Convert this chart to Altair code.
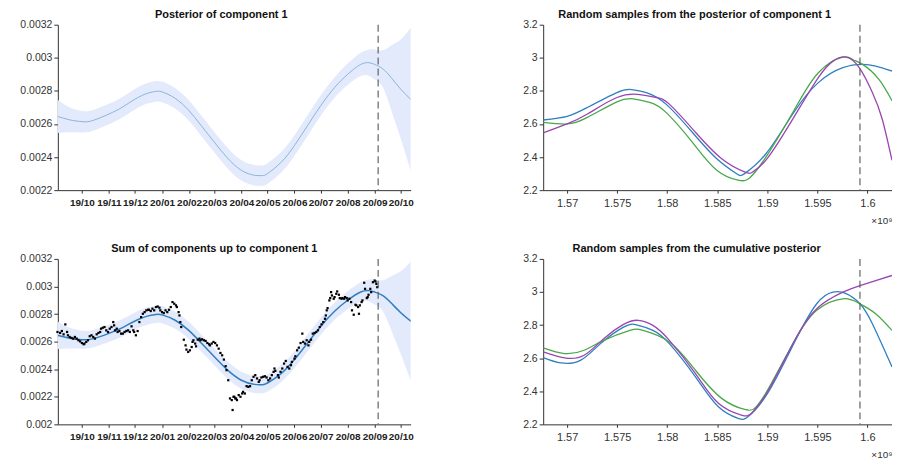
import altair as alt
import pandas as pd

# ---------------- left panels (dates as day offsets from 2019-10-01, values in 1e-3 units) -------------
post_day = [-28, -14, 0, 12, 31, 46, 61, 75, 85, 92, 107, 123, 137, 152, 167, 183, 198, 207, 213,
            229, 244, 259, 274, 290, 305, 320, 330, 336, 345, 355, 366, 378]
post_mean = [2.646, 2.625, 2.614, 2.62, 2.66, 2.70, 2.75, 2.785, 2.797, 2.794, 2.755, 2.68, 2.59, 2.49,
             2.395, 2.32, 2.29, 2.288, 2.30, 2.37, 2.47, 2.59, 2.71, 2.82, 2.90, 2.96, 2.97, 2.96,
             2.935, 2.88, 2.81, 2.746]
post_lower = [2.546, 2.550, 2.549, 2.557, 2.598, 2.638, 2.688, 2.723, 2.735, 2.732, 2.693, 2.618, 2.528,
              2.428, 2.333, 2.258, 2.228, 2.226, 2.238, 2.308, 2.408, 2.528, 2.648, 2.758, 2.835, 2.89,
              2.89, 2.87, 2.825, 2.685, 2.51, 2.306]
post_upper = [2.746, 2.700, 2.679, 2.683, 2.722, 2.762, 2.812, 2.847, 2.859, 2.856, 2.817, 2.742, 2.652,
              2.552, 2.457, 2.382, 2.352, 2.350, 2.362, 2.432, 2.532, 2.652, 2.772, 2.882, 2.965, 3.03,
              3.05, 3.05, 3.045, 3.075, 3.11, 3.186]

obs_day = [-28, -25, -23, -21, -19, -17, -16, -14, -12, -10, -8, -6, -4, -2, 0, 2, 3, 5, 7, 9, 11, 13,
           15, 17, 19, 21, 22, 24, 26, 28, 30, 32, 34, 36, 37, 38, 40, 41, 43, 45, 47, 49, 51, 53, 55,
           57, 59, 60, 62, 64, 66, 68, 70, 72, 74, 76,
           77, 79, 81, 83, 85, 87, 89, 90, 92, 94, 96, 98, 100, 102, 104, 106, 108, 109, 111, 112, 113,
           114, 117, 119, 120, 122, 124, 126, 127, 128, 130, 131, 133, 135, 136, 138, 140, 142, 144,
           146, 147, 149, 151, 153, 155, 157, 159, 161, 163, 165, 166, 168, 170, 172, 174, 176,
           173, 175, 177, 178, 180, 182, 184, 185, 187, 189, 191, 193, 195, 197, 199, 201, 203, 204,
           206, 208, 210, 212, 214, 216, 218, 220, 221, 222, 225, 226, 228, 230, 232, 234, 236, 238,
           240, 241, 244, 245, 247, 249, 251, 253, 254, 256, 258, 260, 261, 263, 265, 267, 269, 271,
           273, 275, 277, 279, 280,
           281, 282, 284, 285, 286, 287, 289, 290, 292, 293, 295, 296, 298, 299, 301, 302, 304, 305,
           307, 309, 310, 312, 314, 315, 317, 318, 319, 321, 322, 324, 325, 327, 328, 329, 331, 332,
           334, 336, 337, 338, 339]
obs_val = [2.670, 2.663, 2.677, 2.653, 2.725, 2.670, 2.646, 2.634, 2.627, 2.622, 2.634, 2.622, 2.610,
           2.602, 2.590, 2.581, 2.586, 2.598, 2.610, 2.639, 2.646, 2.634, 2.622, 2.653, 2.663, 2.670,
           2.694, 2.701, 2.706, 2.682, 2.670, 2.694, 2.706, 2.742, 2.718, 2.682, 2.694, 2.670, 2.677,
           2.658, 2.658, 2.670, 2.677, 2.682, 2.670, 2.711, 2.682, 2.670, 2.646, 2.677, 2.742, 2.778,
           2.802, 2.814, 2.827, 2.831,
           2.831, 2.822, 2.839, 2.827, 2.851, 2.855, 2.846, 2.827, 2.814, 2.807, 2.827, 2.814, 2.831,
           2.851, 2.887, 2.875, 2.863, 2.851, 2.814, 2.790, 2.742, 2.706, 2.614, 2.573, 2.542, 2.525,
           2.537, 2.561, 2.598, 2.610, 2.586, 2.566, 2.614, 2.622, 2.610, 2.617, 2.610, 2.605, 2.590,
           2.581, 2.573, 2.586, 2.598, 2.590, 2.573, 2.549, 2.518, 2.501, 2.470, 2.422, 2.393, 2.320,
           2.188, 2.176, 2.200, 2.188,
           2.104, 2.200, 2.188, 2.176, 2.212, 2.200, 2.224, 2.236, 2.224, 2.277, 2.272, 2.277, 2.320,
           2.345, 2.357, 2.333, 2.308, 2.320, 2.340, 2.345, 2.349, 2.340, 2.320, 2.333, 2.357, 2.381,
           2.405, 2.388, 2.357, 2.340, 2.381, 2.405, 2.441, 2.460, 2.417, 2.405, 2.429, 2.453, 2.477,
           2.494, 2.537, 2.556, 2.590, 2.658, 2.598, 2.586, 2.610, 2.573, 2.598, 2.614, 2.658, 2.663,
           2.670, 2.682, 2.706, 2.725, 2.742, 2.766, 2.790,
           2.827, 2.843, 2.899, 2.916, 2.959, 2.935, 2.911, 2.923, 2.947, 2.964, 2.940, 2.916, 2.911,
           2.916, 2.911, 2.923, 2.916, 2.899, 2.911, 2.887, 2.827, 2.795, 2.867, 2.863, 2.851, 2.802,
           2.863, 2.887, 2.899, 3.027, 2.983, 2.916, 2.923, 2.940, 2.983, 2.959, 3.031, 3.043, 3.036,
           3.019, 2.995]

left_domain_days = [-27.6, 377.3]
cut_day = 340
month_ticks = ["2019-10-01", "2019-11-01", "2019-12-01", "2020-01-01", "2020-02-01", "2020-03-01",
               "2020-04-01", "2020-05-01", "2020-06-01", "2020-07-01", "2020-08-01", "2020-09-01",
               "2020-10-01"]
top_left_ticks = [0.0022, 0.0024, 0.0026, 0.0028, 0.003, 0.0032]
bot_left_ticks = [0.002, 0.0022, 0.0024, 0.0026, 0.0028, 0.003, 0.0032]

# ---------------- right panels (x in units of 1e9 s) -------------
r_domain = [1.56761, 1.60245]
r_cut = 1.59925
r_xticks = [1.57, 1.575, 1.58, 1.585, 1.59, 1.595, 1.6]
r_yticks = [2.2, 2.4, 2.6, 2.8, 3.0, 3.2]

t_blue_x = [1.56761, 1.57, 1.57203, 1.57497, 1.57644, 1.57792, 1.57988, 1.58250, 1.58495, 1.58691,
            1.58773, 1.58986, 1.59264, 1.59509, 1.59754, 1.59951, 1.60082, 1.60245]
t_blue_y = [2.624, 2.646, 2.70, 2.79, 2.808, 2.79, 2.72, 2.55, 2.39, 2.30, 2.30, 2.42, 2.67, 2.85,
            2.94, 2.96, 2.95, 2.92]
t_green_x = [1.56761, 1.57, 1.57203, 1.57497, 1.57661, 1.57824, 1.57988, 1.58250, 1.58495, 1.58708,
             1.58822, 1.58986, 1.59264, 1.59509, 1.59754, 1.59852, 1.59951, 1.60114, 1.60245]
t_green_y = [2.61, 2.60, 2.64, 2.734, 2.752, 2.73, 2.67, 2.49, 2.32, 2.26, 2.274, 2.40, 2.68, 2.91,
             3.004, 2.99, 2.96, 2.87, 2.74]
t_purple_x = [1.56761, 1.57, 1.57203, 1.57497, 1.57726, 1.57890, 1.58021, 1.58282, 1.58544, 1.58773,
              1.58855, 1.59002, 1.59264, 1.59509, 1.59656, 1.59787, 1.59918, 1.60049, 1.60147, 1.60245]
t_purple_y = [2.546, 2.60, 2.66, 2.76, 2.778, 2.76, 2.72, 2.55, 2.39, 2.31, 2.31, 2.394, 2.64, 2.88,
              2.98, 3.004, 2.94, 2.79, 2.63, 2.38]

b_blue_x = [1.56761, 1.56941, 1.57137, 1.57334, 1.57563, 1.57694, 1.57857, 1.58021, 1.58282, 1.58511,
            1.58708, 1.58806, 1.59002, 1.59264, 1.59493, 1.59656, 1.59787, 1.59925, 1.60049, 1.60245]
b_blue_y = [2.604, 2.571, 2.588, 2.688, 2.788, 2.802, 2.768, 2.688, 2.487, 2.306, 2.236, 2.246, 2.387,
            2.688, 2.929, 2.999, 2.99, 2.929, 2.808, 2.547]
b_green_x = [1.56761, 1.56974, 1.57170, 1.57366, 1.57628, 1.57759, 1.58021, 1.58282, 1.58544, 1.58773,
             1.58871, 1.59002, 1.59264, 1.59493, 1.59754, 1.59925, 1.60082, 1.60245]
b_green_y = [2.662, 2.628, 2.648, 2.708, 2.768, 2.768, 2.698, 2.527, 2.357, 2.29, 2.296, 2.407, 2.698,
             2.889, 2.959, 2.929, 2.869, 2.768]
b_purple_x = [1.56761, 1.56974, 1.57170, 1.57366, 1.57563, 1.57710, 1.57857, 1.58021, 1.58282, 1.58511,
              1.58740, 1.58839, 1.59002, 1.59264, 1.59493, 1.59754, 1.59925, 1.60082, 1.60245]
b_purple_y = [2.638, 2.602, 2.618, 2.718, 2.804, 2.829, 2.798, 2.708, 2.507, 2.327, 2.256, 2.266, 2.397,
              2.698, 2.899, 2.999, 3.039, 3.069, 3.10]

# ---------------- styling -------------
FONT = "Liberation Sans"
BAND = "#e3eafc"
WL, WR, H = 354, 350, 166
C_BLUE, C_GREEN, C_PURPLE = "#2f7fc1", "#4aa84a", "#9a45b0"

origin = pd.Timestamp("2019-10-01", tz="UTC")


def to_ms(days):
    return [int((origin + pd.Timedelta(days=float(d))).value // 10**6) for d in days]


post_df = pd.DataFrame({"t": to_ms(post_day),
                        "mean": [v * 1e-3 for v in post_mean],
                        "lo": [v * 1e-3 for v in post_lower],
                        "hi": [v * 1e-3 for v in post_upper]})
obs_df = pd.DataFrame({"t": to_ms(obs_day), "v": [v * 1e-3 for v in obs_val]})
cut_df = pd.DataFrame({"t": to_ms([cut_day])})
tick_ms = [int(pd.Timestamp(s, tz="UTC").value // 10**6) for s in month_ticks]
dom_ms = to_ms(left_domain_days)

xscale_l = alt.Scale(type="utc", domain=dom_ms, nice=False)
xaxis_l = alt.Axis(values=tick_ms, format="%y/%m", title=None, labelFontWeight="bold",
                   labelColor="#222", labelOverlap=False, labelFlush=False, tickSize=3,
                   labelFontSize=10, labelPadding=4)


def panel_title(text, dx):
    return alt.TitleParams(text, dx=dx, frame="group", offset=0)


def left_panel(title, yticks, ydom, line_color, line_w, dots, dx):
    yscale = alt.Scale(domain=ydom, nice=False, zero=False)
    yaxis = alt.Axis(values=yticks, format="~g", title=None, labelOverlap=False, tickCount=len(yticks))
    x = alt.X("t:T", scale=xscale_l, axis=xaxis_l)
    band = alt.Chart(post_df).mark_area(color=BAND, interpolate="natural", clip=True).encode(
        x=x, y=alt.Y("lo:Q", scale=yscale, axis=yaxis), y2="hi:Q")
    line = alt.Chart(post_df).mark_line(color=line_color, strokeWidth=line_w, interpolate="natural",
                                        clip=True).encode(
        x=x, y=alt.Y("mean:Q", scale=yscale, axis=yaxis))
    layers = [band, line]
    if dots:
        layers.append(alt.Chart(obs_df).mark_square(size=5, color="black", opacity=1).encode(
            x=x, y=alt.Y("v:Q", scale=yscale, axis=yaxis)))
    layers.append(alt.Chart(cut_df).mark_rule(color="#555", strokeDash=[7, 4], strokeWidth=1.1).encode(
        x=x))
    return alt.layer(*layers).properties(width=WL, height=H, title=panel_title(title, dx))


def right_panel(title, series, dx):
    rows = []
    for name, xs, ys in series:
        for i, (a, b) in enumerate(zip(xs, ys)):
            rows.append({"s": name, "x": a, "y": b, "i": i})
    df = pd.DataFrame(rows)
    xscale = alt.Scale(domain=r_domain, nice=False, zero=False)
    yscale = alt.Scale(domain=[2.2, 3.2], nice=False, zero=False)
    x = alt.X("x:Q", scale=xscale,
              axis=alt.Axis(values=r_xticks, format="~g", title="×10⁹", titleAnchor="end",
                            titleAlign="right", titleBaseline="alphabetic", titleX=WR, titleY=33,
                            titleFontSize=10, titleFontWeight="normal", titleColor="#333",
                            labelFlush=False, labelOverlap=False, tickSize=3, labelPadding=4,
                            labelFontSize=11))
    lines = alt.Chart(df).mark_line(strokeWidth=1.3, interpolate="natural", clip=True).encode(
        x=x,
        y=alt.Y("y:Q", scale=yscale,
                axis=alt.Axis(values=r_yticks, format="~g", title=None, labelOverlap=False)),
        color=alt.Color("s:N", scale=alt.Scale(domain=["blue", "green", "purple"],
                                               range=[C_BLUE, C_GREEN, C_PURPLE]), legend=None),
        order="i:Q")
    rule = alt.Chart(pd.DataFrame({"x": [r_cut]})).mark_rule(
        color="#555", strokeDash=[7, 4], strokeWidth=1.1).encode(x=alt.X("x:Q", scale=xscale))
    return alt.layer(lines, rule).properties(width=WR, height=H, title=panel_title(title, dx))


p1 = left_panel("Posterior of component 1", top_left_ticks, [0.0022, 0.0032], "#8ab4dc", 1.0, False, -13)
p3 = left_panel("Sum of components up to component 1", bot_left_ticks, [0.002, 0.0032], C_BLUE, 1.5,
                True, -20)
p2 = right_panel("Random samples from the posterior of component 1",
                 [("blue", t_blue_x, t_blue_y), ("green", t_green_x, t_green_y),
                  ("purple", t_purple_x, t_purple_y)], -23)
p4 = right_panel("Random samples from the cumulative posterior",
                 [("blue", b_blue_x, b_blue_y), ("green", b_green_x, b_green_y),
                  ("purple", b_purple_x, b_purple_y)], -21)

chart = alt.concat(
    p1, p2, p3, p4, columns=2, spacing={"row": 69, "column": 133}, bounds="flush"
).resolve_scale(x="independent", y="independent", color="independent").properties(
    padding={"left": 11, "top": 0, "right": 0, "bottom": 0}
).configure_view(stroke=None).configure_axis(
    grid=False, domainColor="#333", tickColor="#333", labelColor="#333", labelFont=FONT,
    titleFont=FONT, labelFontSize=10.5, tickSize=4, labelPadding=2, labelOverlap=False
).configure_title(
    font=FONT, fontSize=11, fontWeight="bold", color="#111"
)

chart.save("out.html", embed_options={"renderer": "svg", "actions": False})
